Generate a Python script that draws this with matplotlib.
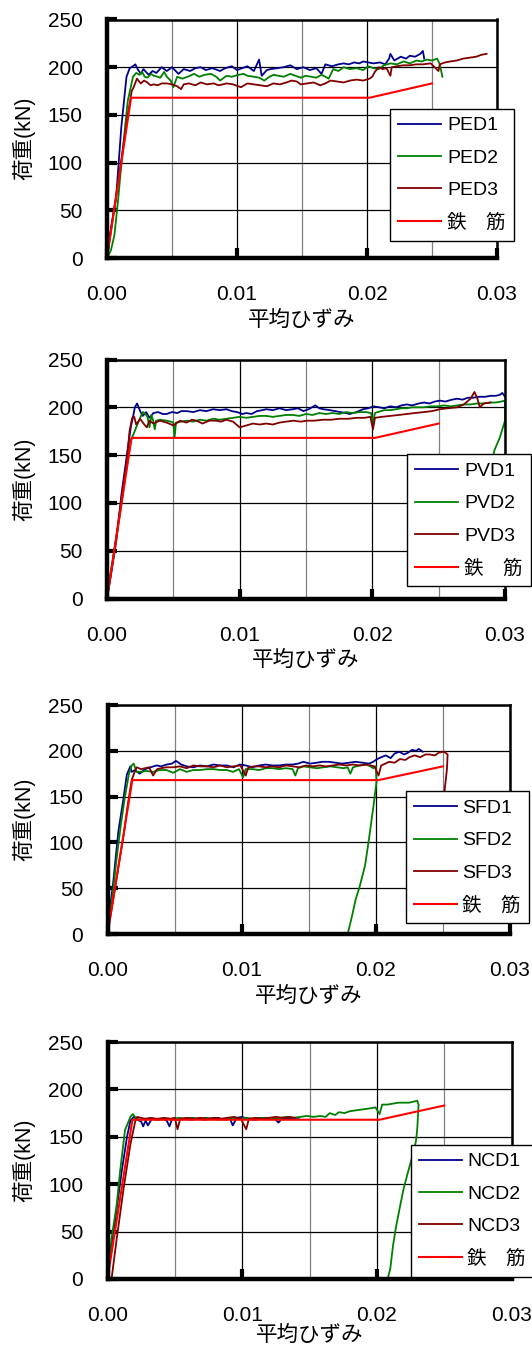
import numpy as np
import matplotlib
matplotlib.use('Agg')
import matplotlib.pyplot as plt
from matplotlib.ticker import FixedLocator

plt.rcParams['font.family'] = ['Liberation Sans', 'Noto Sans CJK JP']

# ---------------- data (strain in 1e-3, load in kN) ----------------
steel_strain = [0, 1.85, 20.2, 25.0]
steel_load = [0, 168, 168, 183]

# PED series
ped1_strain = [0, 0.3, 0.7, 1.1, 1.5, 1.75, 2.0, 2.18, 2.4, 2.6, 2.8, 3.0, 3.2, 3.5, 3.8, 4.2, 4.6, 5.0,
               5.5, 5.9, 6.4, 6.8, 7.2, 7.6, 8.1, 8.7, 9.1, 9.6, 10.0, 10.4, 10.8, 11.3, 11.7, 11.9, 12.3,
               12.6, 13.1, 13.6, 14.1, 14.6, 15.1, 15.6, 16.1, 16.5, 16.8, 17.3, 17.8, 18.2, 18.6, 19.0,
               19.4, 19.7, 20.1, 20.5, 21.0, 21.4, 21.7, 21.8, 22.1, 22.6, 23.0, 23.3, 23.7, 24.1, 24.3, 24.4]
ped1_load = [0, 31, 63, 137, 190, 199, 201, 203, 197, 193, 198, 195, 192, 196, 194, 200, 196, 200,
             193, 198, 196, 199, 200, 197, 199, 196, 199, 201, 197, 199, 201, 196, 208, 191, 197,
             198, 199, 200, 202, 198, 200, 197, 199, 193, 203, 201, 203, 204, 203, 205,
             204, 206, 205, 204, 205, 203, 209, 214, 207, 211, 209, 212, 211, 214, 217, 209]
ped2_strain = [0, 0.3, 0.57, 0.84, 1.2, 1.6, 2.0, 2.25, 2.5, 2.7, 2.9, 3.1, 3.4, 3.6, 3.9, 4.1, 4.4, 4.6,
               4.9, 5.1, 5.4, 5.8, 6.2, 6.7, 7.1, 7.5, 8.0, 8.4, 8.7, 9.2, 9.6, 10.1, 10.5, 10.8, 11.3,
               11.7, 12.1, 12.5, 12.8, 13.2, 13.6, 14.1, 14.5, 14.9, 15.3, 15.7, 16.1, 16.5, 16.8, 17.05,
               17.4, 17.8, 18.2, 18.7, 19.2, 19.7, 20.1, 20.5, 20.9, 21.3, 21.8, 22.3, 22.8, 23.3, 23.8,
               24.2, 24.6, 25.0, 25.4, 25.6, 25.8]
ped2_load = [0, 8, 24, 59, 112, 165, 190, 194, 192, 195, 190, 189, 193, 191, 190, 189, 195, 190,
             186, 179, 190, 188, 190, 193, 190, 192, 193, 190, 186, 191, 190, 192, 193, 191, 190,
             189, 186, 190, 192, 191, 190, 193, 191, 189, 191, 190, 189, 192, 190, 188,
             198, 196, 200, 198, 199, 197, 201, 199, 198, 202, 204, 203, 206, 204, 207,
             206, 208, 207, 209, 203, 190]
ped3_strain = [0, 0.4, 0.8, 1.2, 1.6, 1.9, 2.05, 2.3, 2.6, 2.85, 3.1, 3.35, 3.6, 3.9, 4.2, 4.6, 5.0, 5.4,
               5.7, 5.9, 6.3, 6.8, 7.2, 7.7, 8.2, 8.6, 9.2, 9.7, 10.3, 10.8, 11.3, 11.8, 12.3, 12.8, 13.3,
               13.8, 14.2, 14.6, 14.9, 15.4, 15.9, 16.4, 16.8, 17.2, 17.7, 18.2, 18.7, 19.2, 19.7, 20.2,
               20.4, 20.6, 20.9, 21.2, 21.5, 21.8, 21.9, 22.3, 22.8, 23.3, 23.8, 24.3, 24.9, 25.2, 25.5,
               25.6, 26.0, 26.4, 26.9, 27.4, 27.9, 28.4, 28.8, 29.2]
ped3_load = [0, 38, 75, 112, 150, 175, 179, 188, 183, 186, 184, 181, 182, 181, 183, 183, 182, 180,
             177, 182, 183, 181, 184, 182, 183, 181, 183, 182, 179, 183, 182, 181, 180, 183, 182,
             184, 186, 185, 182, 183, 184, 181, 183, 186, 185, 184, 186, 187, 186, 188,
             190, 195, 200, 198, 199, 191, 200, 201, 202, 202, 203, 203, 204, 200, 196,
             203, 205, 206, 207, 209, 210, 211, 213, 214]

# PVD series
pvd1_strain = [0, 0.3, 0.7, 1.1, 1.5, 1.8, 1.95, 2.1, 2.27, 2.5, 2.7, 2.95, 3.2, 3.5, 3.85, 4.2, 4.5, 4.9,
               5.3, 5.6, 6.0, 6.5, 7.0, 7.5, 8.0, 8.5, 9.0, 9.4, 9.8, 10.2, 10.5, 10.9, 11.3, 11.7, 12.0,
               12.5, 13.0, 13.5, 14.0, 14.4, 14.8, 15.2, 15.7, 16.0, 16.3, 16.8, 17.2, 17.6, 18.0, 18.3,
               18.8, 19.3, 19.7, 20.1, 20.5, 20.9, 21.35, 21.8, 22.2, 22.6, 23.0, 23.5, 23.9, 24.3, 24.7,
               25.1, 25.5, 26.0, 26.4, 26.8, 27.2, 27.6, 28.0, 28.5, 28.9, 29.3, 29.6, 29.8, 30.0]
pvd1_load = [0, 25, 60, 110, 150, 180, 189, 200, 204, 196, 191, 195, 189, 194, 195, 193, 193, 195,
             194, 196, 196, 195, 197, 196, 198, 197, 198, 196, 195, 193, 194, 193, 196, 197, 198,
             197, 199, 197, 198, 199, 196, 198, 202, 199, 198, 197, 196, 195, 194, 193,
             195, 198, 199, 201, 200, 199, 201, 200, 202, 203, 202, 204, 205, 204, 206,
             207, 206, 208, 209, 208, 210, 210, 211, 211, 212, 212, 213, 215, 211]
pvd2_strain = [0, 0.3, 0.6, 1.0, 1.4, 1.8, 2.2, 2.5, 2.7, 2.9, 3.05, 3.2, 3.35, 3.5, 3.6, 3.7, 4.0, 4.5,
               4.8, 5.0, 5.1, 5.2, 5.6, 6.0, 6.5, 7.0, 7.5, 8.0, 8.5, 9.0, 9.5, 10.0, 10.5, 11.0, 11.5,
               12.0, 12.5, 13.0, 13.5, 14.0, 14.5, 15.0, 15.5, 16.0, 16.5, 17.0, 17.5, 18.0, 18.5, 19.0,
               19.5, 19.9, 20.05, 20.2, 20.4, 20.9, 21.35, 21.8, 22.2, 22.6, 23.0, 23.5, 23.9, 24.4, 24.9,
               25.4, 25.9, 26.4, 26.9, 27.4, 27.9, 28.4, 28.9, 29.3, 29.7, 30.0, 30.0, 29.6, 29.2, 28.9,
               28.5, 28.0]
pvd2_load = [0, 30, 55, 90, 130, 165, 179, 189, 195, 193, 190, 179, 192, 185, 177, 186, 187, 186,
             185, 184, 169, 184, 185, 186, 185, 187, 186, 188, 187, 188, 189, 190, 189, 190, 191,
             191, 190, 191, 192, 192, 191, 193, 192, 194, 193, 194, 193, 195, 194, 195,
             195, 194, 184, 194, 195, 197, 197, 198, 199, 199, 200, 200, 200, 201, 201,
             202, 201, 202, 203, 203, 204, 204, 205, 205, 206, 207, 186, 168, 155, 135,
             115, 90]
pvd3_strain = [0, 0.4, 0.8, 1.2, 1.5, 1.7, 1.9, 2.05, 2.2, 2.5, 2.75, 3.0, 3.2, 3.5, 3.98, 4.5, 5.0, 5.5,
               6.0, 6.4, 6.75, 7.2, 7.7, 8.25, 8.6, 9.0, 9.5, 10.0, 10.5, 11.0, 11.5, 12.0, 12.5, 13.0,
               13.5, 14.05, 14.6, 15.1, 15.6, 16.3, 16.9, 17.5, 18.2, 18.8, 19.4, 19.85, 20.05, 20.2,
               20.7, 21.35, 22.0, 22.6, 23.2, 23.9, 24.5, 25.1, 25.7, 26.4, 26.9, 27.4, 27.7, 27.9, 28.1,
               28.4, 28.9]
pvd3_load = [0, 35, 75, 115, 145, 175, 189, 190, 182, 188, 183, 179, 186, 183, 186, 184, 181, 186,
             184, 187, 186, 183, 186, 186, 185, 187, 185, 179, 181, 183, 182, 183, 182, 184,
             185, 186, 185, 186, 186, 187, 187, 188, 188, 189, 189, 190, 177, 189,
             190, 191, 192, 193, 194, 195, 196, 198, 199, 200, 203, 209, 216, 210, 200,
             204, 205]

# SFD series
sfd1_strain = [0, 0.18, 0.43, 0.81, 1.19, 1.44, 1.7, 1.8, 2.05, 2.4, 2.8, 3.2, 3.66, 4.0, 4.4, 4.8, 5.1,
               5.5, 5.9, 6.4, 6.9, 7.4, 7.9, 8.4, 8.9, 9.4, 9.85, 10.3, 10.8, 11.3, 11.8, 12.3, 12.8,
               13.3, 13.8, 14.2, 14.6, 15.1, 15.6, 16.0, 16.5, 17.0, 17.5, 18.0, 18.5, 19.0, 19.5, 19.8,
               20.1, 20.4, 20.75, 21.1, 21.4, 21.75, 22.1, 22.4, 22.7, 23.0, 23.2, 23.5]
sfd1_load = [0, 27, 57, 112, 148, 174, 183, 177, 179, 175, 180, 182, 184, 183, 185, 186, 189,
             185, 183, 182, 184, 183, 185, 184, 184, 182, 185, 184, 182, 184, 185, 184, 184,
             185, 185, 186, 188, 186, 187, 188, 188, 187, 186, 187, 188, 187, 186, 188,
             191, 193, 195, 192, 197, 199, 196, 198, 201, 200, 202, 199]
sfd2_strain = [0, 0.15, 0.4, 0.7, 1.0, 1.3, 1.6, 1.8, 1.95, 2.17, 2.5, 2.9, 3.4, 3.9, 4.4, 4.9, 5.4, 5.9,
               6.4, 6.9, 7.4, 7.9, 8.4, 8.9, 9.36, 9.8, 10.1, 10.3, 10.8, 11.3, 11.8, 12.3, 12.8, 13.3,
               13.8, 14.0, 14.2, 14.6, 15.1, 15.6, 16.1, 16.6, 17.1, 17.6, 17.9, 18.1, 18.3, 18.8, 19.3,
               19.6, 19.8, 20.0, 20.05, 19.8, 19.5, 19.2, 18.8, 18.5, 18.2, 17.9]
sfd2_load = [0, 20, 45, 85, 120, 150, 175, 184, 186, 177, 177, 178, 177, 179, 179, 176, 180, 177,
             179, 179, 180, 180, 179, 179, 177, 180, 171, 180, 180, 179, 181, 181, 180, 181,
             180, 173, 181, 183, 182, 181, 182, 183, 182, 181, 182, 175, 182, 184, 185,
             183, 181, 183, 166, 137, 105, 75, 52, 38, 18, 0]
sfd3_strain = [0, 0.4, 0.8, 1.2, 1.5, 1.8, 2.0, 2.17, 2.5, 2.8, 3.1, 3.4, 3.7, 4.0, 4.4, 4.9, 5.4, 5.9,
               6.4, 6.9, 7.4, 7.9, 8.4, 8.9, 9.4, 9.9, 10.3, 10.5, 10.9, 11.3, 11.8, 12.3, 12.8, 13.3,
               13.8, 14.3, 14.8, 15.3, 15.8, 16.3, 16.8, 17.3, 17.8, 18.3, 18.8, 19.3, 19.9, 20.2, 20.4,
               20.7, 21.0, 21.4, 21.8, 22.2, 22.5, 22.9, 23.3, 23.7, 24.0, 24.4, 24.7, 25.1, 25.35, 25.3,
               25.15, 24.9]
sfd3_load = [0, 35, 72, 108, 140, 168, 176, 182, 180, 181, 182, 173, 180, 181, 182, 182, 183, 181,
             184, 183, 183, 182, 184, 182, 183, 184, 173, 182, 183, 183, 182, 183, 182, 184,
             183, 182, 184, 183, 184, 183, 184, 185, 184, 185, 184, 185, 183, 173, 184,
             186, 188, 187, 191, 190, 193, 195, 193, 196, 196, 195, 198, 199, 196, 180,
             160, 120]

# NCD series
ncd1_strain = [0, 0.15, 0.55, 1.06, 1.45, 1.7, 1.95, 2.2, 2.5, 2.65, 2.83, 3.0, 3.3, 3.7, 4.1, 4.4, 4.6,
               4.8, 5.2, 5.7, 6.2, 6.7, 7.2, 7.7, 8.2, 8.7, 9.1, 9.3, 9.6, 10.0, 10.4, 10.9, 11.4, 11.9,
               12.4, 12.7, 13.0, 13.5, 14.0, 14.2]
ncd1_load = [0, 25, 60, 114, 150, 167, 171, 168, 166, 161, 167, 162, 169, 168, 169, 167, 161,
             169, 168, 169, 168, 169, 168, 169, 170, 168, 169, 162, 170, 171, 169, 168, 169, 170,
             169, 165, 170, 169, 170, 170]
ncd2_strain = [0, 0.3, 0.68, 0.93, 1.3, 1.7, 1.87, 2.1, 2.4, 2.8, 3.3, 3.8, 4.3, 4.8, 5.3, 5.8, 6.3, 6.8,
               7.3, 7.8, 8.3, 8.8, 9.3, 9.8, 10.3, 10.8, 11.3, 11.8, 12.3, 12.8, 13.3, 13.8, 14.3, 14.8,
               15.3, 15.8, 16.2, 16.5, 16.9, 17.2, 17.6, 18.0, 18.5, 19.0, 19.5, 19.9, 20.2, 20.4, 20.8,
               21.2, 21.6, 22.0, 22.4, 22.7, 23.0, 23.1, 23.0, 22.9, 22.65, 22.3, 22.0, 21.7, 21.4, 21.2,
               21.0, 20.8]
ncd2_load = [0, 43, 78, 113, 157, 171, 174, 170, 168, 169, 169, 168, 169, 169, 170, 169, 170, 169,
             170, 169, 168, 169, 170, 169, 170, 169, 170, 170, 169, 170, 171, 170, 171, 172,
             171, 172, 171, 175, 173, 176, 175, 177, 178, 179, 180, 181, 174, 184, 184,
             185, 186, 186, 186, 187, 188, 184, 158, 145, 130, 112, 96, 75, 53, 35,
             11, 0]
ncd3_strain = [0, 0.3, 0.68, 1.19, 1.7, 2.07, 2.2, 2.5, 2.8, 3.2, 3.7, 4.2, 4.7, 5.0, 5.2, 5.4, 5.9, 6.4,
               6.9, 7.4, 7.9, 8.4, 8.9, 9.4, 9.9, 10.3, 10.5, 11.0, 11.5, 12.0, 12.5, 13.0, 13.5, 13.9]
ncd3_load = [0, 0, 42, 95, 142, 167, 171, 170, 169, 170, 169, 170, 169, 170, 158, 169, 170, 169,
             170, 169, 170, 169, 170, 171, 169, 158, 169, 170, 169, 170, 171, 170, 171, 170]

xticks = [0.0, 0.01, 0.02, 0.03]
xtick_labels = ['0.00', '0.01', '0.02', '0.03']
yticks = [0, 50, 100, 150, 200, 250]
steel_label = '鉄\u3000筋'
xlabel_text = '平均ひずみ'
ylabel_text = '荷重(kN)'

colors = ['#00008B', '#008000', '#800000']
steel_color = '#FF0000'

panels = [
    dict(box=(107, 19.5, 497, 258), leg=(390, 108.5), xlab=62,
         names=['PED1', 'PED2', 'PED3'],
         data=[(ped1_strain, ped1_load), (ped2_strain, ped2_load), (ped3_strain, ped3_load)]),
    dict(box=(107, 359.5, 505, 598.5), leg=(407, 454), xlab=62,
         names=['PVD1', 'PVD2', 'PVD3'],
         data=[(pvd1_strain, pvd1_load), (pvd2_strain, pvd2_load), (pvd3_strain, pvd3_load)]),
    dict(box=(107.5, 705, 510, 934), leg=(405.5, 791), xlab=62,
         names=['SFD1', 'SFD2', 'SFD3'],
         data=[(sfd1_strain, sfd1_load), (sfd2_strain, sfd2_load), (sfd3_strain, sfd3_load)]),
    dict(box=(107.5, 1042, 511.5, 1279), leg=(410.5, 1144.5), xlab=56,
         names=['NCD1', 'NCD2', 'NCD3'],
         data=[(ncd1_strain, ncd1_load), (ncd2_strain, ncd2_load), (ncd3_strain, ncd3_load)]),
]

W, H = 532, 1349
fig = plt.figure(figsize=(W / 100, H / 100), dpi=100)

for p in panels:
    l, t, r, b = p['box']
    wpx, hpx = r - l, b - t
    ax = fig.add_axes([l / W, 1 - b / H, wpx / W, hpx / H])
    ax.set_xlim(0, 0.03)
    ax.set_ylim(0, 250)
    ax.set_axisbelow(True)

    handles = []
    for (s, ld), c, nm in zip(p['data'], colors, p['names']):
        h, = ax.plot(np.array(s) * 1e-3, ld, color=c, lw=1.3, label=nm)
        handles.append(h)
    hs, = ax.plot(np.array(steel_strain) * 1e-3, steel_load, color=steel_color, lw=1.5,
                  label=steel_label)
    handles.append(hs)

    ax.xaxis.set_major_locator(FixedLocator(xticks))
    ax.xaxis.set_minor_locator(FixedLocator([0.005, 0.015, 0.025]))
    ax.set_xticklabels(xtick_labels)
    ax.set_yticks(yticks)
    ax.grid(which='major', axis='both', color='black', lw=0.9)
    ax.grid(which='minor', axis='x', color='#808080', lw=0.9)
    ax.tick_params(which='major', direction='in', length=7, width=3, labelsize=15, color='black')
    ax.tick_params(axis='x', which='major', pad=19.5)
    ax.tick_params(axis='y', which='major', pad=17.5)
    ax.tick_params(which='minor', length=0)

    for side in ['left', 'bottom']:
        ax.spines[side].set_linewidth(3.2)
    for side in ['top', 'right']:
        ax.spines[side].set_linewidth(1.8)
    for sp in ax.spines.values():
        sp.set_color('black')

    ax.set_xlabel(xlabel_text, fontsize=15.5, va='center')
    ax.xaxis.set_label_coords(0.5, -p['xlab'] / hpx)
    ax.set_ylabel(ylabel_text, fontsize=15.5, va='center')
    ax.yaxis.set_label_coords(-(l - 24) / wpx, 0.5)

    lx, ly = p['leg']
    leg = ax.legend(handles=handles, loc='upper left', bbox_to_anchor=(lx / W, 1 - ly / H),
                    bbox_transform=fig.transFigure, borderaxespad=0, frameon=True, fancybox=False,
                    edgecolor='black', framealpha=1, fontsize=14, handlelength=2.2,
                    handletextpad=0.3, labelspacing=0.76, borderpad=0.43)
    leg.get_frame().set_linewidth(1.0)

fig.savefig('out.png', dpi=100)
